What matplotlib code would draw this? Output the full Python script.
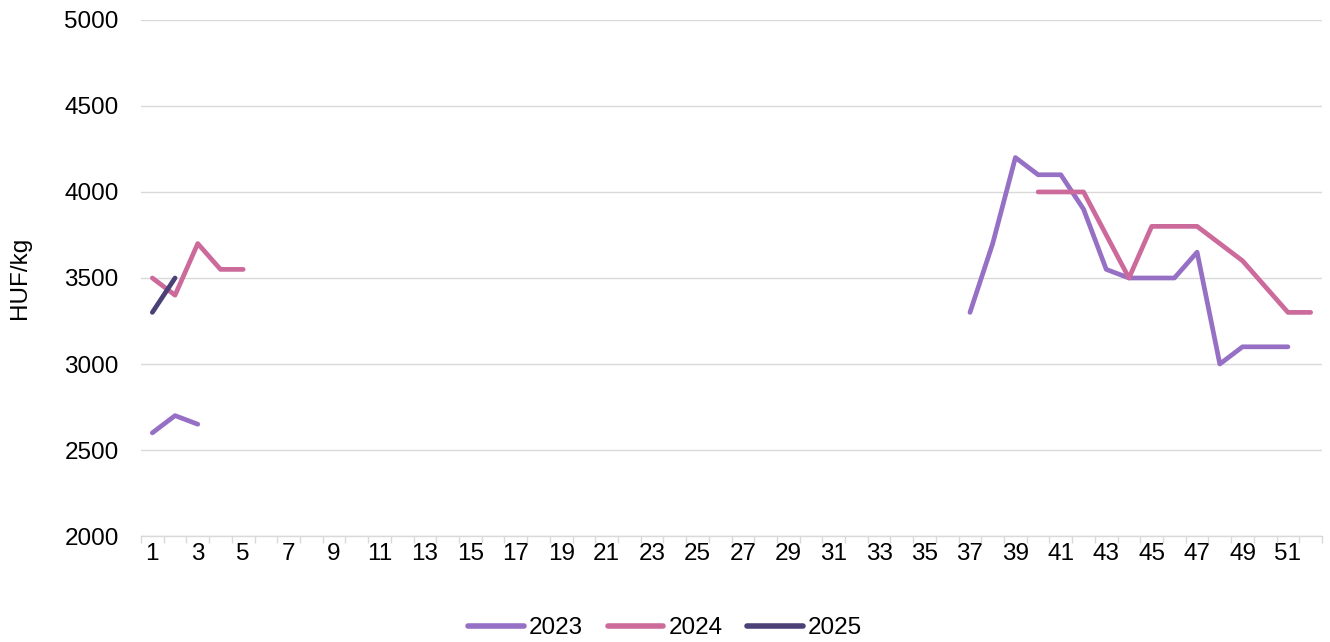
import numpy as np
import matplotlib
matplotlib.use("Agg")
import matplotlib.pyplot as plt
from matplotlib.ticker import FixedLocator

plt.rcParams['font.family'] = ['Liberation Sans', 'DejaVu Sans']

weeks = list(range(1, 53))
nan = np.nan

# 2023: weeks 1-3 and 37-51
y2023 = {1: 2600, 2: 2700, 3: 2650,
         37: 3300, 38: 3700, 39: 4200, 40: 4100, 41: 4100, 42: 3900, 43: 3550,
         44: 3500, 45: 3500, 46: 3500, 47: 3650, 48: 3000, 49: 3100, 50: 3100, 51: 3100}
# 2024: weeks 1-5 and 40-52
y2024 = {1: 3500, 2: 3400, 3: 3700, 4: 3550, 5: 3550,
         40: 4000, 41: 4000, 42: 4000, 43: 3750, 44: 3500, 45: 3800, 46: 3800,
         47: 3800, 48: 3700, 49: 3600, 50: 3450, 51: 3300, 52: 3300}
# 2025: weeks 1-2
y2025 = {1: 3300, 2: 3500}

series_names = ['2023', '2024', '2025']
series_colors = ['#9670C4', '#CC6A9B', '#4B4177']
series_data = [y2023, y2024, y2025]

FS = 17.5

fig = plt.figure(figsize=(13.30, 6.42), dpi=100)
ax = fig.add_axes([0.106, 0.165, 0.888, 0.804])

for name, col, d in zip(series_names, series_colors, series_data):
    vals = [d.get(w, nan) for w in weeks]
    ax.plot(weeks, vals, color=col, lw=3.4, label=name, solid_capstyle='round',
            solid_joinstyle='round')

ax.set_xlim(0.5, 52.5)
ax.set_ylim(2000, 5000)
ax.set_yticks(np.arange(2000, 5001, 500))
ax.yaxis.grid(True, color='#D9D9D9', lw=1.0)
ax.set_axisbelow(True)
for s in ['left', 'right', 'top']:
    ax.spines[s].set_visible(False)
ax.spines['bottom'].set_color('#D9D9D9')
ax.spines['bottom'].set_linewidth(1.0)

ax.set_xticks([w for w in weeks if w % 2 == 1])
ax.set_xticklabels([str(w) for w in weeks if w % 2 == 1])
ax.xaxis.set_minor_locator(FixedLocator(np.arange(0.5, 53, 1.0)))
ax.tick_params(axis='x', which='major', length=0, pad=5, labelsize=FS)
ax.tick_params(axis='x', which='minor', length=5, color='#D9D9D9', width=1)
ax.tick_params(axis='y', length=0, pad=16, labelsize=FS)

ax.set_ylabel('HUF/kg', fontsize=FS)
ax.yaxis.set_label_coords(-0.093, 0.5)

leg = fig.legend(loc='center', bbox_to_anchor=(0.5, 1 - 628 / 642), ncol=3, frameon=False,
                 fontsize=FS, handlelength=2.3, handletextpad=0.2, columnspacing=1.0)
for line in leg.get_lines():
    line.set_linewidth(4)

fig.savefig('out.png', dpi=100)
